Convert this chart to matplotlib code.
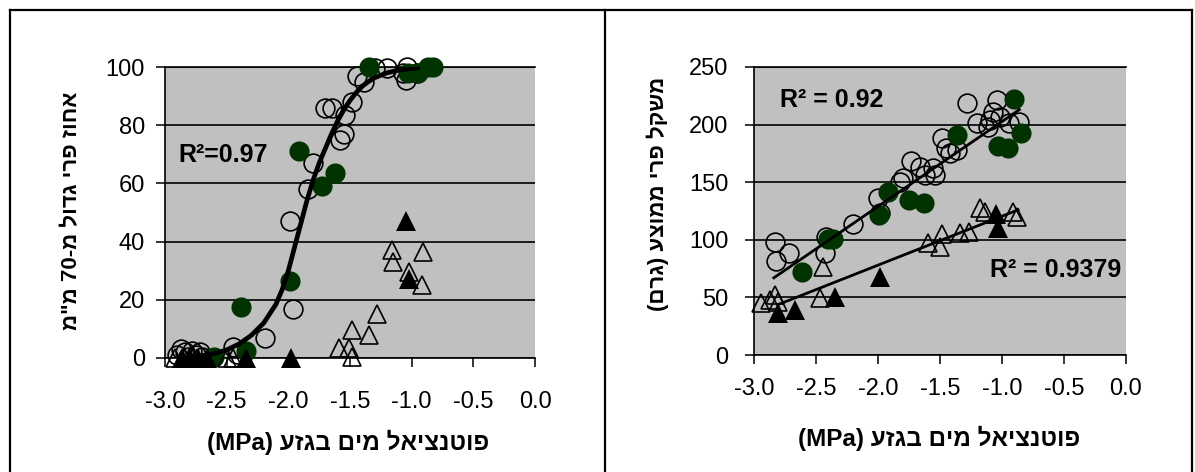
import re
import numpy as np
import matplotlib
matplotlib.use("Agg")
import matplotlib.pyplot as plt
from matplotlib.lines import Line2D

plt.rcParams["font.family"] = ["Liberation Sans", "DejaVu Sans"]

# ---------------- data: share of fruit larger than 70 mm ----------------
size_circle_x = [-2.90, -2.87, -2.84, -2.81, -2.78, -2.75, -2.72, -2.70,
                 -2.45, -2.42, -2.19, -1.99, -1.96, -1.84, -1.80, -1.70,
                 -1.65, -1.58, -1.55, -1.54, -1.48, -1.44, -1.39, -1.30,
                 -1.20, -1.07, -1.05, -1.04, -0.96]
size_circle_y = [1, 3, 2, 0.5, 2.5, 1, 2, 0.5,
                 3.8, 1.5, 6.8, 47, 17, 58, 67, 86,
                 86, 75, 77, 83.5, 88, 97, 95, 99.6,
                 99.6, 98, 95.5, 100, 98]
size_green_x = [-2.60, -2.38, -2.34, -1.99, -1.91, -1.73, -1.62, -1.35,
                -1.03, -0.95, -0.87, -0.83]
size_green_y = [0.5, 17.5, 2.5, 26.5, 71, 59, 63.5, 100,
                98, 98, 100, 100]
size_otri_x = [-2.92, -2.85, -2.78, -2.50, -2.45, -1.59, -1.51, -1.48,
               -1.48, -1.35, -1.28, -1.16, -1.15, -1.02, -0.92, -0.91]
size_otri_y = [0, 0, 0, 0, 0, 3.4, 3.4, 0.5,
               9.6, 8, 15, 37, 33, 29.6, 25, 36.5]
size_ftri_x = [-2.86, -2.80, -2.73, -2.66, -2.34, -1.98, -1.05, -1.02]
size_ftri_y = [0, 0, 0, 0, 0, 0, 47, 27]
# fitted sigmoid curve
curve_x = [-2.85, -2.70, -2.60, -2.50, -2.40, -2.30, -2.20, -2.10, -2.05,
           -2.00, -1.95, -1.90, -1.85, -1.80, -1.75, -1.70, -1.65, -1.60,
           -1.55, -1.50, -1.45, -1.40, -1.35, -1.30, -1.20, -1.10, -1.00,
           -0.95]
curve_y = [0.3, 0.8, 1.5, 2.8, 4.8, 7.8, 12, 18.5, 23.5,
           30, 38, 46, 54, 61, 67, 72, 77, 81.5,
           85.3, 88.5, 91.2, 93.4, 95, 96.3, 98, 99, 99.5,
           99.6]

# ---------------- data: mean fruit weight (g) ----------------
wt_circle_x = [-2.83, -2.82, -2.72, -2.42, -2.43, -2.20, -1.98, -2.00,
               -1.82, -1.80, -1.73, -1.66, -1.62, -1.56, -1.54, -1.48,
               -1.45, -1.42, -1.36, -1.28, -1.20, -1.11, -1.10, -1.07,
               -1.04, -1.02, -0.94, -0.86]
wt_circle_y = [98, 82, 88.5, 102, 88.5, 114, 123, 136,
               150, 154, 168, 163, 156, 162, 156, 188,
               180, 175, 178, 219, 201, 198, 204, 211,
               221, 207, 201, 202]
wt_green_x = [-2.61, -2.40, -2.36, -1.99, -1.92, -1.75, -1.63, -1.36,
              -1.03, -0.95, -0.90, -0.85]
wt_green_y = [72, 101, 101, 121.5, 141.5, 134.5, 132, 191,
              181, 180, 222, 193]
wt_otri_x = [-2.94, -2.87, -2.83, -2.81, -2.47, -2.44, -1.60, -1.50,
             -1.48, -1.34, -1.27, -1.18, -1.14, -0.91, -0.88]
wt_otri_y = [45, 48, 52, 46, 49.5, 76.5, 97, 94,
             105, 106, 107, 128, 124, 124, 120]
wt_ftri_x = [-2.81, -2.67, -2.35, -1.98, -1.05, -1.03]
wt_ftri_y = [36.5, 39, 50.5, 68, 122, 110]
# linear trend lines (end points)
wt_fit_circles_x = [-2.84, -0.86]
wt_fit_circles_y = [67, 213]
wt_fit_triangles_x = [-2.80, -0.87]
wt_fit_triangles_y = [44, 126]

x_ticks = [-3.0, -2.5, -2.0, -1.5, -1.0, -0.5, 0.0]
size_yticks = [0, 20, 40, 60, 80, 100]
wt_yticks = [0, 50, 100, 150, 200, 250]

x_label = "פוטנציאל מים בגזע (MPa)"
size_label = "אחוז פרי גדול מ-70 מ\"מ"
wt_label = "משקל פרי ממוצע (גרם)"
size_r2 = "R²=0.97"
wt_r2_circles = "R² = 0.92"
wt_r2_triangles = "R² = 0.9379"

GREEN = "#003300"
GRAY = "#C0C0C0"


def visual(text):
    """Reorder a right-to-left string for left-to-right rendering."""
    runs = re.findall(r"[A-Za-z0-9.]+|[^A-Za-z0-9.]", text)
    mirror = {"(": ")", ")": "("}
    return "".join(mirror.get(r, r) for r in reversed(runs))


W, H = 1195, 472
fig = plt.figure(figsize=(W / 100, H / 100), dpi=100)


def px_axes(x0, y0, x1, y1):
    return fig.add_axes([x0 / W, 1 - y1 / H, (x1 - x0) / W, (y1 - y0) / H])


def style(ax, yticks, xpad, ypad):
    ax.set_facecolor(GRAY)
    ax.set_xlim(-3.0, 0.0)
    ax.set_ylim(yticks[0], yticks[-1])
    ax.set_xticks(x_ticks)
    ax.set_xticklabels([f"{t:.1f}" for t in x_ticks])
    ax.set_yticks(yticks)
    ax.set_yticklabels([str(t) for t in yticks])
    ax.spines["right"].set_visible(False)
    for s in ("left", "bottom", "top"):
        ax.spines[s].set_linewidth(1.2)
        ax.spines[s].set_color("black")
    ax.yaxis.grid(True, color="black", linewidth=1.2)
    ax.set_axisbelow(True)
    ax.tick_params(axis="both", direction="out", length=6.5, width=1.1,
                   labelsize=17, colors="black")
    ax.tick_params(axis="x", pad=xpad)
    ax.tick_params(axis="y", pad=ypad)


def scatter_sets(ax, cx, cy, gx, gy, ox, oy, fx, fy):
    kw = dict(linestyle="none", clip_on=False, markersize=13.5)
    ax.plot(cx, cy, marker="o", markerfacecolor="none",
            markeredgecolor="black", markeredgewidth=1.2, zorder=3, **kw)
    ax.plot(gx, gy, marker="o", color=GREEN, markeredgewidth=0, zorder=4,
            **{**kw, "markersize": 14.5})
    ax.plot(ox, oy, marker="^", markerfacecolor="none",
            markeredgecolor="black", markeredgewidth=1.2, zorder=5, **kw)
    ax.plot(fx, fy, marker="^", color="black", markeredgewidth=0, zorder=6,
            **{**kw, "markersize": 14.5})


# ---------------- left panel ----------------
ax1 = px_axes(165, 67, 535, 358)
style(ax1, size_yticks, xpad=17, ypad=8)
scatter_sets(ax1, size_circle_x, size_circle_y, size_green_x, size_green_y,
             size_otri_x, size_otri_y, size_ftri_x, size_ftri_y)
ax1.plot(curve_x, curve_y, color="black", linewidth=3.4, zorder=7,
         solid_capstyle="round", solid_joinstyle="round")
ax1.text(-2.895, 69.8, size_r2, fontsize=18, fontweight="bold",
         ha="left", va="center", zorder=8)

# ---------------- right panel ----------------
ax2 = px_axes(754, 67, 1126, 355)
style(ax2, wt_yticks, xpad=10, ypad=12)
scatter_sets(ax2, wt_circle_x, wt_circle_y, wt_green_x, wt_green_y,
             wt_otri_x, wt_otri_y, wt_ftri_x, wt_ftri_y)
ax2.plot(wt_fit_circles_x, wt_fit_circles_y, color="black", linewidth=2.0,
         zorder=7)
ax2.plot(wt_fit_triangles_x, wt_fit_triangles_y, color="black",
         linewidth=2.0, zorder=7)
ax2.text(-2.79, 221, wt_r2_circles, fontsize=18, fontweight="bold",
         ha="left", va="center", zorder=8)
ax2.text(-0.04, 74, wt_r2_triangles, fontsize=18, fontweight="bold",
         ha="right", va="center", zorder=8)

# ---------------- axis titles ----------------
xtitle_kw = dict(fontsize=17.5, fontweight="bold", ha="center", va="center")
ytitle_kw = dict(fontsize=16, fontweight="bold", ha="center", va="center",
                 rotation=90)
fig.text(72 / W, 1 - 211 / H, visual(size_label), **ytitle_kw)
fig.text(348 / W, 1 - 442 / H, visual(x_label), **xtitle_kw)
fig.text(658 / W, 1 - 194 / H, visual(wt_label), **ytitle_kw)
fig.text(939 / W, 1 - 438 / H, visual(x_label), **xtitle_kw)

# ---------------- panel frames ----------------
frame_kw = dict(color="black", linewidth=1.6, transform=fig.transFigure)
for xa, ya, xb, yb in ((10, 10, 1192, 10), (10, 10, 10, 472),
                       (605, 10, 605, 472), (1192, 10, 1192, 472)):
    fig.add_artist(Line2D([xa / W, xb / W], [1 - ya / H, 1 - yb / H],
                          **frame_kw))

fig.savefig("out.png", dpi=100)
